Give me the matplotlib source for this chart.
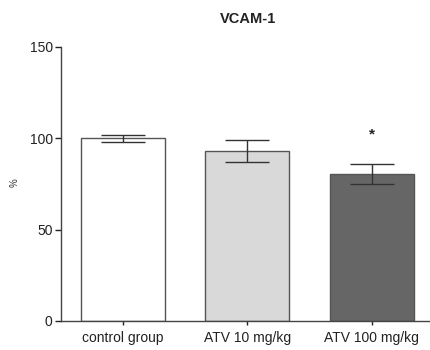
import matplotlib
matplotlib.use("Agg")
import matplotlib.pyplot as plt

categories = ["control group", "ATV 10 mg/kg", "ATV 100 mg/kg"]
values = [100.0, 93.0, 80.5]
errors = [1.8, 6.0, 5.3]
colors = ["#ffffff", "#d9d9d9", "#666666"]
yticks = [0, 50, 100, 150]
title = "VCAM-1"
ylabel = "%"
significance = ["", "", "*"]

plt.rcParams['font.family'] = ['Liberation Sans', 'DejaVu Sans']

fig = plt.figure(figsize=(4.3, 3.5), dpi=100)
ax = fig.add_axes([0.142, 0.083, 0.858, 0.783])

x = list(range(len(categories)))
ax.bar(x, values, width=0.675, color=colors, edgecolor="#555555", linewidth=1.0, zorder=2)
ax.errorbar(x, values, yerr=errors, fmt="none", ecolor="#333333", elinewidth=1.0,
            capsize=16, capthick=1.0, zorder=3)
for xi, v, e, s in zip(x, values, errors, significance):
    if s:
        ax.text(xi, v + e + 16, s, ha="center", va="center", fontsize=11, fontweight="bold", color="#222222")

ax.set_xlim(-0.5, 2.47)
ax.set_ylim(0, 150)
ax.set_yticks(yticks)
ax.set_xticks(x)
ax.set_xticklabels(categories)
ax.tick_params(axis="both", labelsize=10, colors="#222222", length=4, width=1.0, direction="out", pad=2)
ax.tick_params(axis="x", length=3, pad=4)
for sp in ["top", "right"]:
    ax.spines[sp].set_visible(False)
for sp in ["left", "bottom"]:
    ax.spines[sp].set_color("#444444")
    ax.spines[sp].set_linewidth(1.0)
fig.text(15 / 430, 1 - 183 / 350, ylabel, rotation=90, ha="center", va="center", fontsize=7, color="#333333")
fig.text(0.577, 0.946, title, ha="center", va="center", fontsize=10.5, fontweight="bold", color="#222222")

fig.savefig("out.png", dpi=100)
